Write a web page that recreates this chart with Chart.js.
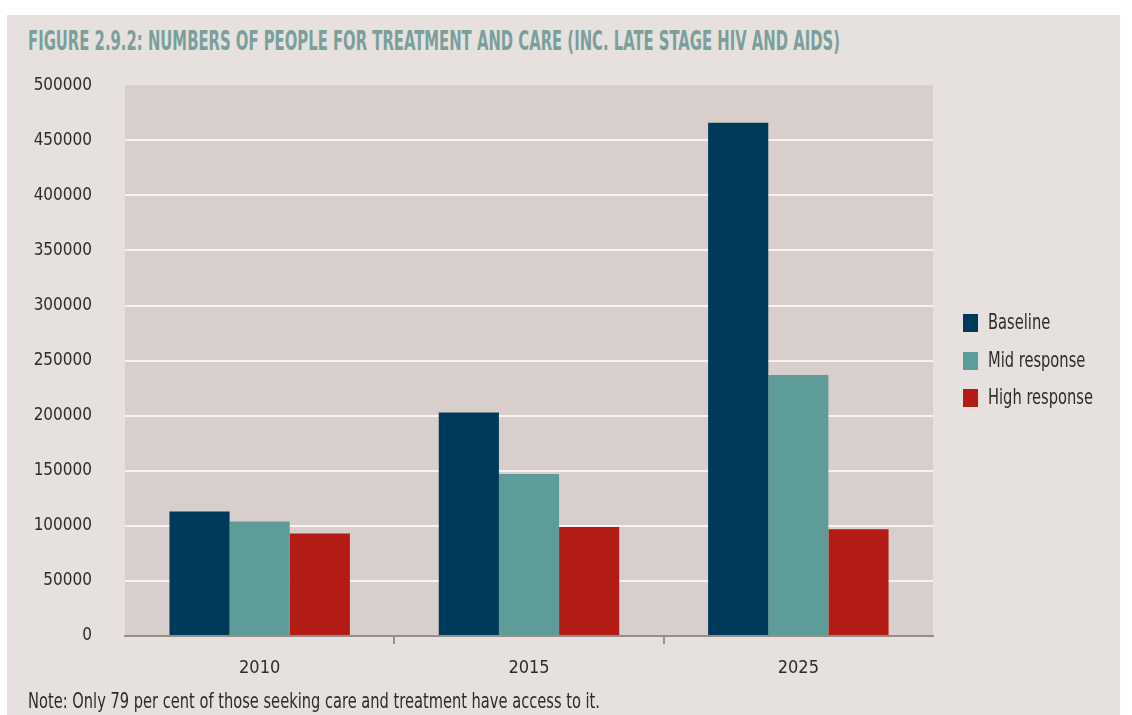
<!DOCTYPE html>
<html>
<head>
<meta charset="utf-8">
<script src="https://cdn.jsdelivr.net/npm/chart.js@4.4.1/dist/chart.umd.min.js"></script>
<style>
  html, body { margin: 0; padding: 0; background: #ffffff; }
  body { width: 1132px; height: 715px; position: relative; overflow: hidden;
         font-family: 'Liberation Sans Narrow', 'DejaVu Sans Condensed', sans-serif; color: #2e2b2a; }
  #panel { position: absolute; left: 7px; top: 15px; width: 1113px; height: 700px; background: #e6e1de; }
  #title { position: absolute; left: 28px; top: 26px; font-size: 26px; font-weight: bold; color: #7a9f9c;
           white-space: nowrap; transform-origin: 0 0; }
  #note { position: absolute; left: 28px; top: 689px; font-size: 21px; white-space: nowrap; transform-origin: 0 0; }
  #wrap { position: absolute; left: 8px; top: 42px; width: 1112px; height: 658px; }
  #legend { position: absolute; left: 963px; top: 313px; font-size: 21px; }
  .item { position: relative; height: 37.5px; }
  .sw { position: absolute; left: 0; top: 1px; width: 15px; height: 18px; }
  .lb { position: absolute; left: 25px; top: -3px; white-space: nowrap; transform-origin: 0 0; }
</style>
</head>
<body>
<div id="panel"></div>
<div id="title">FIGURE 2.9.2: NUMBERS OF PEOPLE FOR TREATMENT AND CARE (INC. LATE STAGE HIV AND AIDS)</div>
<div id="wrap"><canvas id="chart"></canvas></div>
<div id="legend"></div>
<div id="note">Note: Only 79 per cent of those seeking care and treatment have access to it.</div>
<script>
const years = ['2010', '2015', '2025'];
const seriesNames = ['Baseline', 'Mid response', 'High response'];
const baseline = [113000, 203000, 466000];
const midResponse = [104000, 147000, 237000];
const highResponse = [93000, 99000, 97000];
const yTicks = [0, 50000, 100000, 150000, 200000, 250000, 300000, 350000, 400000, 450000, 500000];
const colors = ['#003a5a', '#5e9c9a', '#b31b17'];

const fontFamily = "'Liberation Sans Narrow', 'DejaVu Sans Condensed', sans-serif";

// the original uses a condensed face, so squeeze text to the same widths
function squeeze(el, target) {
  const w = el.getBoundingClientRect().width;
  el.style.transform = 'scaleX(' + (target / w) + ')';
  return target / w;
}
squeeze(document.getElementById('title'), 812);
squeeze(document.getElementById('note'), 572);

const legend = document.getElementById('legend');
const labels = seriesNames.map((name, i) => {
  const item = document.createElement('div');
  item.className = 'item';
  item.innerHTML = '<span class="sw" style="background:' + colors[i] + '"></span><span class="lb">' + name + '</span>';
  legend.appendChild(item);
  return item.querySelector('.lb');
});
const k = 105 / labels[2].getBoundingClientRect().width;
labels.forEach((l) => { l.style.transform = 'scaleX(' + k + ')'; });

const plotBg = {
  id: 'plotBg',
  beforeDraw(chart) {
    const { ctx, chartArea: a } = chart;
    ctx.save();
    ctx.fillStyle = '#d8cfcd';
    ctx.fillRect(a.left, a.top, a.right - a.left, a.bottom - a.top);
    ctx.restore();
  }
};

new Chart(document.getElementById('chart'), {
  type: 'bar',
  data: {
    labels: years,
    datasets: [baseline, midResponse, highResponse].map((d, i) => ({
      label: seriesNames[i],
      data: d,
      backgroundColor: colors[i],
      borderWidth: 0,
      categoryPercentage: 0.67,
      barPercentage: 1.0
    }))
  },
  options: {
    responsive: true,
    maintainAspectRatio: false,
    animation: false,
    layout: { padding: { top: 15, right: 187, left: 0, bottom: 0 } },
    plugins: { legend: { display: false }, tooltip: { enabled: false } },
    scales: {
      x: {
        offset: true,
        afterFit(scale) { scale.height = 64; },
        grid: {
          offset: true,
          drawOnChartArea: false,
          drawTicks: true,
          tickLength: 8,
          lineWidth: 2,
          color: (c) => (c.index === 1 || c.index === 2) ? '#9a8d88' : 'rgba(0,0,0,0)'
        },
        border: { display: true, color: '#9a8d88', width: 2 },
        ticks: { color: '#2e2b2a', padding: 14, font: { family: fontFamily, size: 18 } }
      },
      y: {
        min: 0,
        max: 500000,
        afterFit(scale) { scale.width = 117; },
        afterBuildTicks(scale) { scale.ticks = yTicks.map((v) => ({ value: v })); },
        grid: {
          drawTicks: false,
          tickLength: 0,
          lineWidth: 2,
          color: (c) => (c.tick && c.tick.value > 0 && c.tick.value < 500000) ? '#f6f3f2' : 'rgba(0,0,0,0)'
        },
        border: { display: false },
        ticks: { color: '#2e2b2a', padding: 33, font: { family: fontFamily, size: 17 }, callback: (v) => String(v) }
      }
    }
  },
  plugins: [plotBg]
});
</script>
</body>
</html>
